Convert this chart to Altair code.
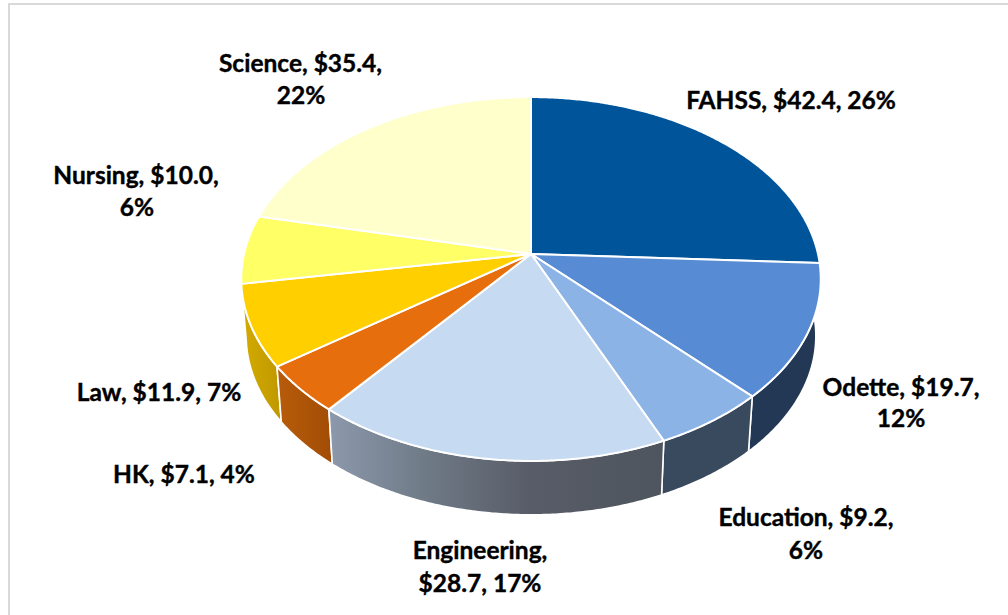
import math
import altair as alt
import pandas as pd

# Research income by faculty ($ millions)
faculties = ["FAHSS", "Odette", "Education", "Engineering", "HK", "Law", "Nursing", "Science"]
values = [42.4, 19.7, 9.2, 28.7, 7.1, 11.9, 10.0, 35.4]
percents = [26, 12, 6, 17, 4, 7, 6, 22]
top_colors = ["#00559A", "#578BD4", "#8CB3E6", "#C6DAF2", "#E66E0C", "#FFCF00", "#FFFF66", "#FFFFCC"]

W, H = 1008, 615
CX, CY, UNIT = 531, 254, 287      # pie hub on the canvas, pixels per pie radius
TILT, PERSP = 0.622, 0.1374       # squash and perspective of the disc
RIM_SCALE, RIM_DROP = 0.983, 0.2

x_scale = alt.Scale(domain=[-CX / UNIT, (W - CX) / UNIT], range=[0, W])
y_scale = alt.Scale(domain=[(CY - H) / UNIT, CY / UNIT], range=[H, 0])


def project(deg, rim=False):
    t = math.radians(deg)
    s, c = math.sin(t), math.cos(t)
    d = 1 + PERSP * c
    x, y = s / d, TILT * c / d
    if rim:
        return x * RIM_SCALE, y * RIM_SCALE - RIM_DROP
    return x, y


def arc(a, b, rim=False):
    n = max(2, int(abs(b - a) * 2))
    return [project(a + (b - a) * i / n, rim) for i in range(n + 1)]


def polygon(points, fill, stroke_width):
    pts = list(points) + [points[0]]
    df = pd.DataFrame({"x": [p[0] for p in pts], "y": [p[1] for p in pts], "i": range(len(pts))})
    return (
        alt.Chart(df)
        .mark_line(fill=fill, stroke="white", strokeWidth=stroke_width, strokeJoin="round")
        .encode(
            x=alt.X("x:Q", scale=x_scale, axis=None),
            y=alt.Y("y:Q", scale=y_scale, axis=None),
            order="i:Q",
        )
    )


def shade(*stops):
    return alt.Gradient(
        gradient="linear",
        x1=0, x2=1, y1=0, y2=0,
        stops=[alt.GradientStop(offset=o, color=c) for o, c in stops],
    )


total = sum(values)
edges = [0.0]
for v in values:
    edges.append(edges[-1] + v / total * 360)

# Side walls of the slices facing the viewer, left and right ends first
wall_fills = {
    "Odette": "#233855",
    "Education": "#3A4A5E",
    "Engineering": shade((0, "#8C99AC"), (0.3, "#6E7985"), (0.6, "#585C68"), (1, "#4E555E")),
    "HK": shade((0, "#B85C0A"), (1, "#A14C05")),
    "Law": shade((0, "#D4AB00"), (1, "#BF9800")),
}
layers = []
for name in ["Law", "Odette", "HK", "Education", "Engineering"]:
    k = faculties.index(name)
    a, b = edges[k], edges[k + 1]
    layers.append(polygon(arc(a, b) + arc(b, a, rim=True), wall_fills[name], 1.6))

# Top face of the disc
for k, color in enumerate(top_colors):
    layers.append(polygon([(0, 0)] + arc(edges[k], edges[k + 1]), color, 2))

# Data labels: label text built from the values, placed beside their slices
def label_lines(k):
    return f"{faculties[k]}, ${values[k]:.1f}, {percents[k]}%"


label_layout = {
    "Science": [("Science, $35.4,", 300.5, 65), ("22%", 301, 97)],
    "FAHSS": [(label_lines(0), 791, 102)],
    "Odette": [("Odette, $19.7,", 901, 389), ("12%", 901, 420)],
    "Education": [("Education, $9.2,", 806, 519), ("6%", 806, 552)],
    "Engineering": [("Engineering,", 480, 552), ("$28.7, 17%", 480, 585)],
    "HK": [(label_lines(4), 184, 476)],
    "Law": [(label_lines(5), 159, 394)],
    "Nursing": [("Nursing, $10.0,", 136, 177), ("6%", 137, 209)],
}
for lines in label_layout.values():
    for text, lx, ly in lines:
        layers.append(
            alt.Chart(pd.DataFrame({"t": [text]}))
            .mark_text(
                font="Lato", fontSize=24.5, fontWeight="bold", color="#000000",
                stroke="#000000", strokeWidth=0.4, align="center", baseline="middle",
            )
            .encode(x=alt.value(lx), y=alt.value(ly), text="t:N")
        )

# Chart frame: only the top and left edges are in view
frame = alt.Chart(pd.DataFrame({"a": [0]})).mark_rule(color="#D9D9D9", strokeWidth=2)
layers.append(frame.encode(x=alt.value(8), x2=alt.value(W), y=alt.value(4)))
layers.append(frame.encode(x=alt.value(9), y=alt.value(4), y2=alt.value(H)))

chart = (
    alt.layer(*layers)
    .properties(width=W, height=H, padding=0, autosize=alt.AutoSizeParams(type="none"), background="white")
    .configure_view(stroke=None)
)
chart.save("out.html", embed_options={"renderer": "svg", "actions": False})
